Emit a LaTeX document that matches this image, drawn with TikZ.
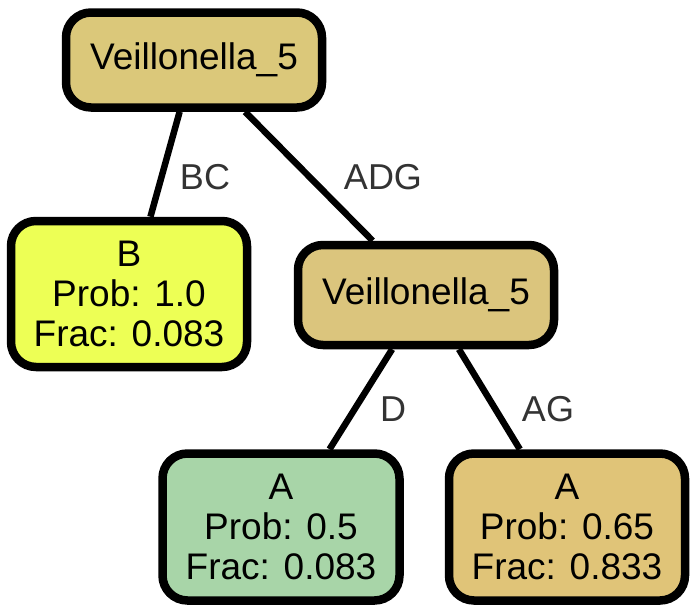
\documentclass[tikz,border=0pt]{standalone}
\usepackage{fontspec}
\setmainfont{Liberation Sans}
\definecolor{rootc}{HTML}{DBC87A}
\definecolor{bc}{HTML}{EDFF55}
\definecolor{midc}{HTML}{DBC57D}
\definecolor{lac}{HTML}{A8D5A8}
\definecolor{rac}{HTML}{E0C478}
\definecolor{labc}{HTML}{333333}
\begin{document}
\begin{tikzpicture}[x=1pt,y=-1pt,
  box/.style={draw=black, line width=8.5pt, rounded corners=25pt, inner sep=0pt,
    align=center, font=\fontsize{37}{40}\selectfont},
  edge/.style={line width=6.5pt, draw=black},
  elab/.style={text=labc, inner sep=0pt, font=\fontsize{36}{40}\selectfont}]
\useasboundingbox (0,0) rectangle (697,613);
\node[box, fill=rootc, minimum width=256pt, minimum height=95pt] (root) at (194,60) {Veillonella\_5};
\node[box, fill=bc, minimum width=236pt, minimum height=146pt] (b) at (129,294) {B\\Prob: 1.0\\Frac: 0.083};
\node[box, fill=midc, minimum width=256pt, minimum height=100pt] (mid) at (426,295) {Veillonella\_5};
\node[box, fill=lac, minimum width=237pt, minimum height=147pt] (la) at (281,527) {A\\Prob: 0.5\\Frac: 0.083};
\node[box, fill=rac, minimum width=236pt, minimum height=147pt] (ra) at (567,527) {A\\Prob: 0.65\\Frac: 0.833};
\draw[edge] (root) -- (b);
\draw[edge] (root) -- (mid);
\draw[edge] (mid) -- (la);
\draw[edge] (mid) -- (ra);
\node[elab] (lbc) at (205,177) {BC};
\node[elab] (ladg) at (383,177) {ADG};
\node[elab] (ld) at (393,409) {D};
\node[elab] (lag) at (548,409) {AG};
\end{tikzpicture}
\end{document}
